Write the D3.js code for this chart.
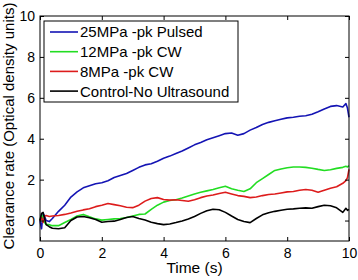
<!DOCTYPE html>
<html>
<head>
<meta charset="utf-8">
<script src="https://cdn.jsdelivr.net/npm/d3@7"></script>
<style>
  body { margin: 0; background: #fff; }
  text { font-family: "Liberation Sans", Arial, sans-serif; }
</style>
</head>
<body>
<script>
// time points (s)
const times = [0, 0.05, 0.1, 0.15, 0.2, 0.3, 0.4, 0.6, 0.8, 1.0, 1.2, 1.4, 1.6, 1.8, 2.0,
  2.2, 2.4, 2.6, 2.8, 3.0, 3.2, 3.4, 3.6, 3.8, 4.0, 4.2, 4.4, 4.6, 4.8, 5.0,
  5.2, 5.4, 5.6, 5.8, 6.0, 6.2, 6.4, 6.6, 6.8, 7.0, 7.2, 7.4, 7.6, 7.8, 8.0,
  8.2, 8.4, 8.6, 8.8, 9.0, 9.2, 9.4, 9.6, 9.8, 9.9, 9.95, 10];

const pulsed25 = [0, -0.4, 0.35, 0.2, 0.0, -0.05, 0.1, 0.45, 0.75, 1.15, 1.4, 1.6, 1.7, 1.8, 1.85,
  1.95, 2.1, 2.2, 2.3, 2.45, 2.6, 2.72, 2.78, 2.9, 3.05, 3.15, 3.28, 3.4, 3.55, 3.7,
  3.82, 3.95, 4.05, 4.15, 4.25, 4.28, 4.17, 4.25, 4.42, 4.55, 4.7, 4.8, 4.88, 4.95, 5.02,
  5.05, 5.1, 5.12, 5.2, 5.32, 5.45, 5.58, 5.62, 5.55, 5.72, 5.5, 5.05];

const cw12 = [0, 0.3, 0.1, -0.1, -0.2, -0.2, -0.25, -0.25, -0.1, 0.05, 0.22, 0.3, 0.18, 0.08, 0.02,
  0.05, 0.08, 0.1, 0.15, 0.22, 0.3, 0.32, 0.55, 0.75, 0.9, 0.98, 1.02, 1.1, 1.2, 1.3,
  1.38, 1.45, 1.52, 1.6, 1.68, 1.55, 1.48, 1.42, 1.55, 1.85, 2.05, 2.25, 2.45, 2.52, 2.58,
  2.62, 2.62, 2.6, 2.56, 2.5, 2.45, 2.48, 2.55, 2.6, 2.65, 2.62, 2.68];

const cw8 = [0, 0.15, -0.1, 0.2, 0.25, 0.2, 0.22, 0.25, 0.3, 0.37, 0.45, 0.52, 0.58, 0.68, 0.75,
  0.83, 0.78, 0.72, 0.65, 0.63, 0.75, 0.95, 1.08, 1.12, 1.03, 1.0, 1.02, 0.98, 0.94, 1.02,
  1.12, 1.2, 1.25, 1.32, 1.38, 1.3, 1.22, 1.18, 1.12, 1.15, 1.22, 1.27, 1.3, 1.35, 1.4,
  1.42, 1.48, 1.52, 1.48, 1.38, 1.48, 1.58, 1.65, 1.82, 1.95, 2.1, 2.5];

const control = [0, 0.35, 0.4, 0.1, -0.2, -0.3, -0.38, -0.4, -0.35, 0.0, 0.17, 0.2, 0.14, 0.05, -0.08,
  -0.05, -0.03, 0.05, 0.15, 0.2, 0.1, 0.03, -0.08, -0.15, -0.2, -0.17, -0.1, -0.02, 0.08, 0.2,
  0.35, 0.48, 0.55, 0.53, 0.4, 0.22, 0.05, -0.05, -0.1, 0.1, 0.28, 0.38, 0.45, 0.5, 0.55,
  0.57, 0.6, 0.62, 0.6, 0.68, 0.75, 0.72, 0.62, 0.4, 0.6, 0.5, 0.55];

const seriesNames = ["25MPa -pk Pulsed", "12MPa -pk CW", "8MPa -pk CW", "Control-No Ultrasound"];
const seriesColors = ["#1414b4", "#22dd22", "#dd1c1c", "#000000"];
const seriesValues = [pulsed25, cw12, cw8, control];

const xTicks = [0, 2, 4, 6, 8, 10];
const yTicks = [0, 2, 4, 6, 8, 10];

const width = 358, height = 280;
const margin = { left: 40, top: 16, right: 9, bottom: 39 };
const plotW = width - margin.left - margin.right;
const plotH = height - margin.top - margin.bottom;

const svg = d3.select("body").append("svg")
  .attr("width", width)
  .attr("height", height);

const x = d3.scaleLinear().domain([0, 10]).range([0, plotW]);
const y = d3.scaleLinear().domain([-1, 10]).range([plotH, 0]);

const g = svg.append("g").attr("transform", `translate(${margin.left},${margin.top})`);

// lines
const line = d3.line()
  .x((d, i) => x(times[i]))
  .y(d => y(d));

seriesValues.forEach((vals, k) => {
  g.append("path")
    .datum(vals)
    .attr("fill", "none")
    .attr("stroke", seriesColors[k])
    .attr("stroke-width", 1.6)
    .attr("stroke-linejoin", "round")
    .attr("d", line);
});

// axes (MATLAB style, inward ticks, box)
const tickLen = 4;
const axisStyle = sel => {
  sel.select(".domain").remove();
  sel.selectAll(".tick line").attr("stroke", "#000");
  sel.selectAll(".tick text").attr("font-size", 14).attr("fill", "#000");
};

g.append("g")
  .attr("transform", `translate(0,${plotH})`)
  .call(d3.axisBottom(x).tickValues(xTicks).tickSize(-tickLen).tickPadding(7))
  .call(axisStyle);

g.append("g")
  .call(d3.axisTop(x).tickValues(xTicks).tickSize(-tickLen).tickFormat(""))
  .call(axisStyle);

g.append("g")
  .call(d3.axisLeft(y).tickValues(yTicks).tickSize(-tickLen).tickPadding(5))
  .call(axisStyle);

g.append("g")
  .attr("transform", `translate(${plotW},0)`)
  .call(d3.axisRight(y).tickValues(yTicks).tickSize(-tickLen).tickFormat(""))
  .call(axisStyle);

g.append("rect")
  .attr("width", plotW)
  .attr("height", plotH)
  .attr("fill", "none")
  .attr("stroke", "#000")
  .attr("stroke-width", 1);

// axis labels
svg.append("text")
  .attr("x", margin.left + plotW / 2)
  .attr("y", 273)
  .attr("text-anchor", "middle")
  .attr("font-size", 15.5)
  .text("Time (s)");

svg.append("text")
  .attr("transform", "translate(13.5,126) rotate(-90)")
  .attr("text-anchor", "middle")
  .attr("font-size", 15)
  .text("Clearance rate (Optical density units)");

// legend
const legend = g.append("g").attr("transform", "translate(4,5)");
legend.append("rect")
  .attr("width", 194)
  .attr("height", 81)
  .attr("fill", "#fff")
  .attr("stroke", "#000");

const item = legend.selectAll(".item")
  .data(seriesNames)
  .enter().append("g")
  .attr("class", "item")
  .attr("transform", (d, i) => `translate(0,${11 + i * 19.7})`);

item.append("line")
  .attr("x1", 6).attr("x2", 34)
  .attr("stroke", (d, i) => seriesColors[i])
  .attr("stroke-width", 1.6);

item.append("text")
  .attr("x", 36)
  .attr("dy", "0.36em")
  .attr("font-size", 15)
  .text(d => d);
</script>
</body>
</html>
